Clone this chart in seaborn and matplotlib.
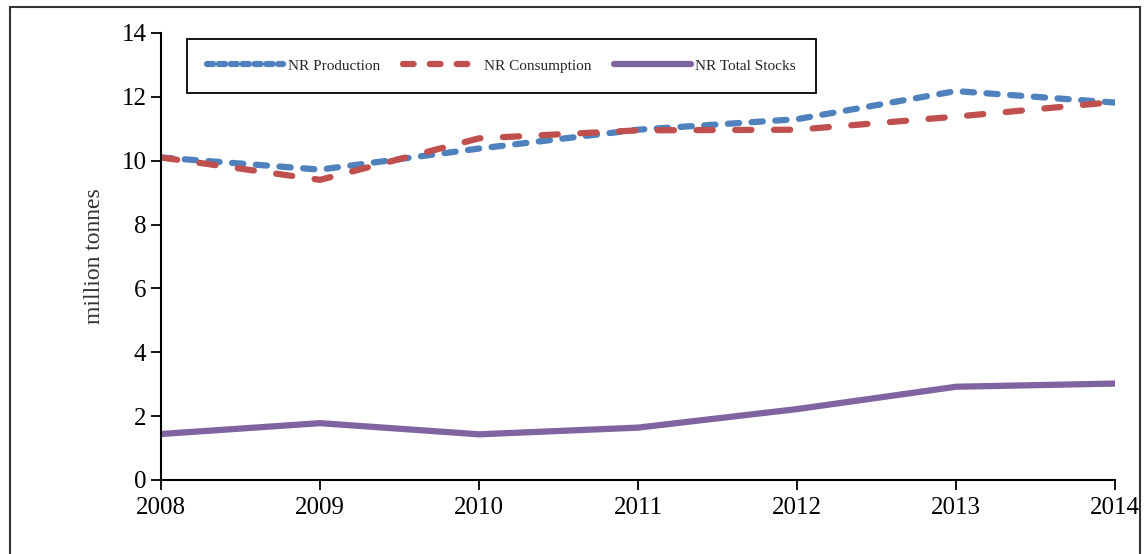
import matplotlib
matplotlib.use("Agg")
import matplotlib.pyplot as plt
import matplotlib.patches as patches
import pandas as pd
import seaborn as sns

years = [2008, 2009, 2010, 2011, 2012, 2013, 2014]
production = [10.1, 9.72, 10.38, 10.97, 11.3, 12.18, 11.82]
consumption = [10.1, 9.4, 10.7, 10.95, 10.97, 11.38, 11.84]
stocks = [1.44, 1.78, 1.43, 1.64, 2.22, 2.92, 3.02]

df = pd.DataFrame({"year": years, "NR Production": production,
                   "NR Consumption": consumption, "NR Total Stocks": stocks})

sns.set_theme(style="ticks")
plt.rcParams["font.family"] = ["Liberation Serif", "DejaVu Serif"]

fig = plt.figure(figsize=(11.47, 5.54), dpi=100)
ax = fig.add_axes([0.1404, 0.1336, 0.8317, 0.8069])

# outer frame of the picture
fig.patches.append(patches.Rectangle((0.009, -0.05), 0.985, 1.037, transform=fig.transFigure,
                                     fill=False, edgecolor="#333333", linewidth=1.5))

lw = 4.5
sns.lineplot(data=df, x="year", y="NR Production", ax=ax, color="#4F81BD",
             linewidth=lw, label="NR Production")
sns.lineplot(data=df, x="year", y="NR Consumption", ax=ax, color="#C0504D",
             linewidth=lw, label="NR Consumption")
sns.lineplot(data=df, x="year", y="NR Total Stocks", ax=ax, color="#8064A2",
             linewidth=lw, label="NR Total Stocks")

lines = ax.get_lines()
lines[0].set_dashes((1.8, 2.0))
lines[0].set_dash_capstyle("round")
lines[1].set_dashes((2.6, 3.6))
lines[1].set_dash_capstyle("round")
lines[2].set_solid_capstyle("round")

ax.set_xlim(2008, 2014)
ax.set_ylim(0, 14)
ax.set_xticks(years)
ax.set_yticks(range(0, 15, 2))
ax.set_xlabel("")
ax.set_ylabel("million tonnes", fontsize=17, color="#333333", labelpad=12)
ax.tick_params(axis="both", labelsize=18, colors="black", direction="out", length=7, width=1.3)
ax.tick_params(axis="x", pad=5)
for s in ["top", "right"]:
    ax.spines[s].set_visible(False)
for s in ["left", "bottom"]:
    ax.spines[s].set_color("black")
    ax.spines[s].set_linewidth(1.5)

leg = ax.legend(loc="upper left", bbox_to_anchor=(0.027, 0.986), ncol=3, fontsize=11,
                handlelength=5.0, columnspacing=1.5, handletextpad=0.3, borderpad=1.3,
                borderaxespad=0, frameon=True, fancybox=False, framealpha=1, edgecolor="black")
leg.get_frame().set_linewidth(1.3)
leg_lines = leg.get_lines()
for h in leg_lines:
    h.set_linewidth(lw)
    h.set_dash_capstyle("round")
    h.set_solid_capstyle("round")
leg_lines[0].set_dashes((1.0, 0.9))
leg_lines[1].set_dashes((1.7, 2.6))

fig.savefig("out.png", dpi=100)
